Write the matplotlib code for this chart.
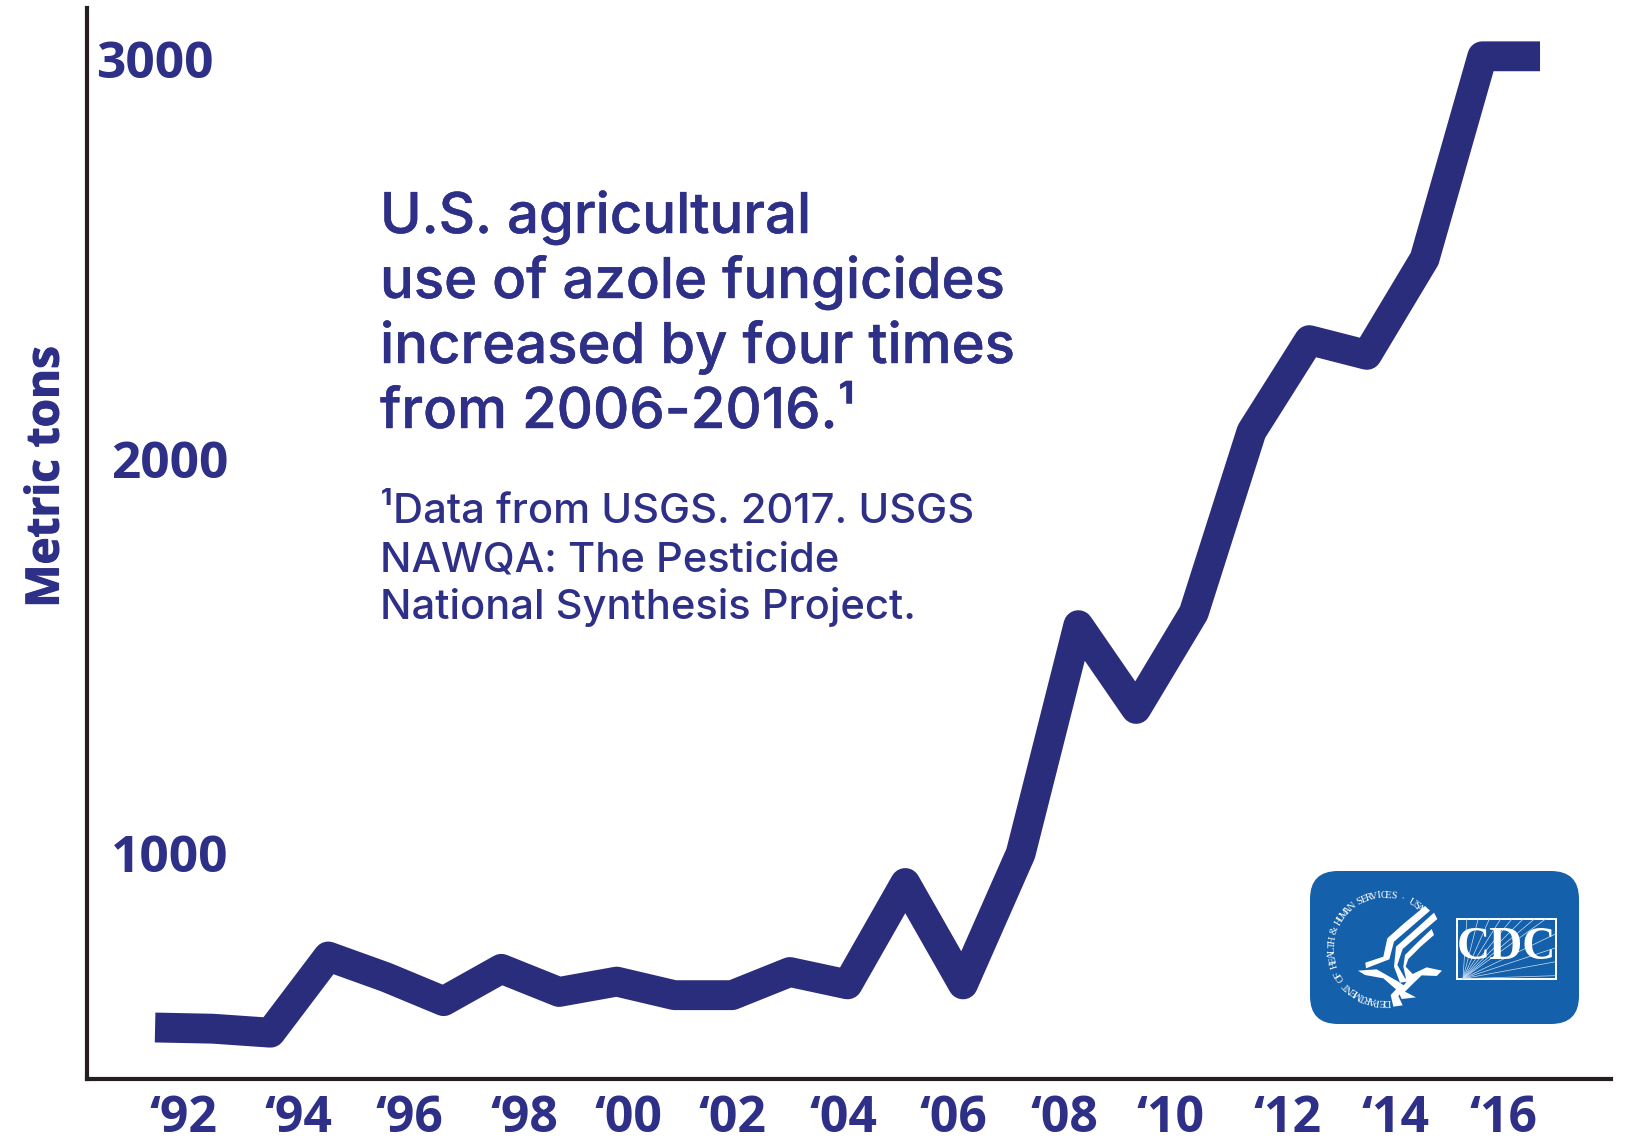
import numpy as np
import matplotlib
matplotlib.use("Agg")
import matplotlib.pyplot as plt
import matplotlib.patheffects as pe
from matplotlib.patches import FancyBboxPatch, Polygon, Rectangle

years = list(range(1992, 2017))
tons = [567, 564, 554, 745, 693, 633, 714, 656, 682, 648, 648, 706, 675,
        929, 675, 1003, 1575, 1365, 1606, 2060, 2289, 2252, 2493, 3000, 3000]

y_ticks = [1000, 2000, 3000]
y_tick_labels = ["1000", "2000", "3000"]
x_tick_labels = ["‘92", "‘94", "‘96", "‘98", "‘00", "‘02", "‘04", "‘06", "‘08", "‘10", "‘12", "‘14", "‘16"]
x_label_years = [1992.49, 1994.48, 1996.4, 1998.4, 2000.2, 2002.0, 2003.92, 2005.84, 2007.76, 2009.6, 2011.63, 2013.5, 2015.37]

title_lines = ["U.S. agricultural", "use of azole fungicides", "increased by four times", "from 2006-2016.¹"]
note_lines = ["¹Data from USGS. 2017. USGS", "NAWQA: The Pesticide", "National Synthesis Project."]

NAVY = "#2a2d7c"
INK = "#2e3087"
BLUE = "#1460aa"
W, H = 1641, 1142

fig = plt.figure(figsize=(W / 100, H / 100), dpi=100, facecolor="white")
ax = fig.add_axes([87 / W, (H - 1079) / H, (1611 - 87) / W, (1079 - 8) / H])
ax.plot(years, tons, color=NAVY, lw=21.5, solid_joinstyle="round", solid_capstyle="butt")
ax.set_xlim(1990.82, 2017.23)
ax.set_ylim(438, 3121)
for side in ["top", "right"]:
    ax.spines[side].set_visible(False)
for side in ["left", "bottom"]:
    ax.spines[side].set_linewidth(3)
    ax.spines[side].set_color("#231f20")

ax.set_xticks(x_label_years, x_tick_labels, family="Open Sans", weight="bold", fontsize=36, color=INK)
ax.set_yticks([])
ax.tick_params(axis="x", length=0, pad=11)

# y labels sit inside the axis, each nudged by hand
label_right = [228, 228, 214]
label_drop = [4, 10, 9]
for v, s, right, drop in zip(y_ticks, y_tick_labels, label_right, label_drop):
    ax.annotate(s, (0, v), xycoords=("axes fraction", "data"), xytext=(right - 87, -drop),
                textcoords="offset pixels", ha="right", va="center",
                family="Open Sans", weight="bold", fontsize=37, color=INK)

# overlay in pixel units for the text block and logo
ov = fig.add_axes([0, 0, 1, 1], facecolor="none")
ov.set_xlim(0, W)
ov.set_ylim(H, 0)
ov.axis("off")

ov.text(46, 477, "Metric tons", family="Open Sans", weight="bold", fontsize=33, color=INK,
        rotation=90, ha="center", va="center", path_effects=[pe.withStroke(linewidth=0.8, foreground=INK)])

for i, line in enumerate(title_lines):
    ov.text(380, 233 + i * 65, line, family="Inter", weight="medium", fontsize=40.5, color=INK,
            va="baseline", path_effects=[pe.withStroke(linewidth=0.3, foreground=INK)])
for i, line in enumerate(note_lines):
    ov.text(380, 523 + i * 48, line, family="Inter", weight="medium", fontsize=30, color=INK, va="baseline")

# logo badge
ov.add_patch(FancyBboxPatch((1335, 896), 219, 103, boxstyle="round,pad=25,rounding_size=28", fc=BLUE, ec="none"))


def zoomed(points):
    return [(1290 + px / 3, 850 + py / 3) for px, py in points]


eagle = [
    [(405, 168), (420, 182), (370, 225), (312, 275), (298, 328), (228, 355), (226, 338), (280, 320), (292, 265), (340, 222)],
    [(432, 188), (442, 207), (392, 250), (338, 297), (322, 345), (345, 385), (372, 392), (330, 398), (312, 350), (318, 290), (380, 235)],
    [(425, 237), (432, 255), (392, 290), (355, 327), (347, 350), (368, 372), (410, 352), (456, 362), (440, 378), (395, 376), (368, 402), (345, 425), (378, 442), (335, 447), (325, 425), (350, 395), (340, 350), (345, 315), (385, 275)],
    [(204, 362), (260, 358), (325, 395), (350, 412), (325, 438), (338, 466), (310, 470), (302, 435), (318, 418), (280, 385), (225, 375)],
]
for shape in eagle:
    ov.add_patch(Polygon(zoomed(shape), closed=True, fc="white", ec="none"))

# seal lettering runs round a circle, one glyph at a time
seal = "DEPARTMENT OF HEALTH & HUMAN SERVICES · USA"
cx, cy, r = 1290 + 285 / 3, 850 + 295 / 3, 53
angles = np.linspace(88, 311, len(seal))
for ch, a in zip(seal, angles):
    t = np.radians(a)
    ov.text(cx + r * np.cos(t), cy + r * np.sin(t), ch, family="Liberation Serif", fontsize=7.5,
            color="white", ha="center", va="center", rotation=270 - a, rotation_mode="anchor")

# CDC mark with its ray pattern
x0, y0 = 1290 + 501 / 3, 850 + 206 / 3
x1, y1 = 1290 + 798 / 3, 850 + 386 / 3
for k in np.linspace(0.1, 0.9, 8):
    ov.plot([x0 + 6, x0 + (x1 - x0) * k], [y1, y0], color="#cfe0f0", lw=0.5)
for k in np.linspace(0.25, 0.95, 4):
    ov.plot([x0 + 6, x1], [y1, y0 + (y1 - y0) * k], color="#cfe0f0", lw=0.5)
ov.add_patch(Rectangle((x0, y0), x1 - x0, y1 - y0, fc="none", ec="white", lw=1.4))
ov.text((x0 + x1) / 2, (y0 + y1) / 2 - 1, "CDC", family="Liberation Serif", weight="bold", fontsize=33,
        color="white", ha="center", va="center")

fig.savefig("out.png", dpi=100)
